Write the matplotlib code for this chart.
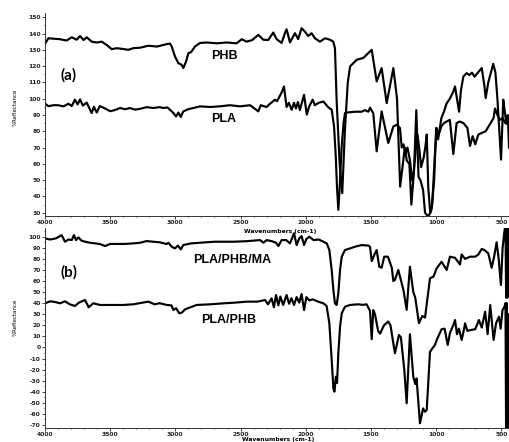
import matplotlib
matplotlib.use("Agg")
import matplotlib.pyplot as plt
from matplotlib.ticker import MultipleLocator

plt.rcParams["axes.unicode_minus"] = False

# ---------------- data ----------------
phb_wn = [4000, 3974, 3930, 3885, 3834, 3795, 3757, 3731, 3705, 3680,
          3642, 3603, 3565, 3527, 3488, 3450, 3400, 3362, 3323, 3270,
          3208, 3140, 3067, 3041, 3028, 3003, 2977, 2952, 2939, 2918,
          2900, 2880, 2850, 2811, 2760, 2683, 2606, 2530, 2491, 2453,
          2410, 2364, 2326, 2288, 2249, 2224, 2185, 2160, 2147, 2121,
          2083, 2058, 2032, 2007, 1981, 1955, 1930, 1891, 1852, 1814,
          1789, 1776, 1763, 1740, 1720, 1700, 1678, 1660, 1609, 1559,
          1520, 1494, 1456, 1418, 1379, 1328, 1300, 1276, 1255, 1240,
          1225, 1205, 1190, 1170, 1152, 1135, 1120, 1100, 1085, 1065,
          1050, 1035, 1015, 1000, 985, 960, 940, 920, 895, 870,
          855, 840, 824, 810, 791, 766, 745, 725, 705, 680,
          650, 630, 620, 600, 580, 562, 545, 530, 515, 502,
          485, 475, 462, 450, 441]
phb_val = [133.7, 137.1, 136.8, 136.5, 135.7, 137.7, 136.2, 138.5, 136.0, 137.7,
           135.0, 134.5, 135.0, 133.0, 130.4, 131.0, 130.5, 130.0, 131.0, 131.3,
           132.5, 132.0, 133.5, 133.8, 132.0, 125.9, 121.8, 120.8, 118.8, 122.8,
           128.0, 128.5, 132.0, 134.2, 134.5, 134.0, 134.5, 134.0, 136.5, 135.0,
           136.0, 139.2, 136.2, 136.0, 140.6, 136.6, 134.2, 140.2, 142.6, 134.5,
           140.2, 136.6, 143.3, 141.2, 138.5, 140.2, 137.1, 135.0, 137.1, 136.2,
           135.0, 131.0, 99.0, 60.0, 42.0, 80.0, 109.6, 119.8, 123.9, 125.0,
           128.0, 130.0, 110.6, 118.8, 97.3, 118.8, 100.0, 46.0, 60.0, 70.0,
           62.0, 60.0, 35.0, 55.0, 93.0, 52.0, 50.0, 44.0, 30.0, 28.0,
           29.0, 32.0, 50.0, 82.0, 75.0, 88.0, 92.0, 97.0, 100.0, 104.0,
           107.5, 100.0, 92.0, 105.0, 113.6, 115.7, 114.5, 116.0, 113.5, 116.0,
           118.8, 108.0, 100.4, 110.0, 116.0, 121.4, 116.0, 100.0, 80.0, 62.6,
           99.4, 93.0, 85.0, 90.0, 70.0]

pla_wn = [4000, 3974, 3935, 3900, 3858, 3820, 3795, 3770, 3750, 3731,
          3710, 3680, 3660, 3642, 3625, 3603, 3580, 3540, 3500, 3465,
          3424, 3385, 3350, 3310, 3270, 3220, 3170, 3120, 3093, 3060,
          3015, 2995, 2977, 2959, 2939, 2900, 2860, 2811, 2734, 2660,
          2581, 2504, 2427, 2364, 2345, 2300, 2280, 2236, 2220, 2185,
          2167, 2147, 2130, 2108, 2090, 2075, 2060, 2045, 2013, 1992,
          1975, 1947, 1930, 1900, 1865, 1827, 1801, 1783, 1770, 1760,
          1750, 1740, 1725, 1710, 1699, 1674, 1620, 1571, 1546, 1520,
          1507, 1482, 1456, 1418, 1367, 1328, 1300, 1277, 1264, 1250,
          1235, 1220, 1200, 1185, 1172, 1155, 1143, 1130, 1115, 1095,
          1080, 1072, 1060, 1045, 1030, 1010, 996, 980, 960, 940,
          919, 895, 868, 843, 820, 790, 760, 740, 720, 700,
          676, 650, 620, 590, 560, 548, 530, 510, 490, 470,
          441]
pla_val = [97.0, 95.4, 96.0, 96.0, 95.3, 96.9, 95.5, 99.4, 96.5, 99.6,
           95.8, 97.6, 94.3, 91.2, 95.0, 91.5, 95.5, 94.0, 92.3, 93.0,
           94.3, 93.5, 94.3, 93.3, 93.8, 94.8, 94.3, 94.8, 94.3, 94.6,
           91.2, 89.1, 91.5, 88.8, 92.2, 93.6, 94.3, 95.3, 94.9, 95.3,
           96.0, 95.3, 96.0, 92.2, 96.0, 94.9, 96.5, 99.4, 98.5, 103.8,
           107.5, 94.9, 97.5, 93.2, 97.5, 94.0, 98.0, 93.0, 102.4, 90.2,
           95.0, 99.4, 96.0, 97.5, 98.3, 94.7, 93.2, 83.0, 65.0, 45.0,
           31.8, 45.0, 70.0, 85.0, 91.2, 91.6, 92.0, 92.0, 93.0, 92.0,
           94.5, 91.0, 67.7, 92.2, 72.8, 83.0, 84.0, 82.0, 70.0, 72.0,
           66.0, 70.0, 62.0, 50.0, 55.0, 70.0, 78.0, 70.0, 58.0, 64.0,
           72.0, 78.0, 45.0, 30.0, 35.0, 65.0, 82.0, 78.0, 83.0, 85.0,
           86.0, 87.0, 66.0, 85.0, 86.0, 85.0, 82.0, 71.0, 77.0, 72.0,
           78.0, 79.0, 80.0, 84.0, 88.0, 94.0, 90.0, 87.0, 88.0, 85.0,
           84.0]

ma_wn = [4000, 3960, 3917, 3885, 3872, 3847, 3820, 3795, 3778, 3762,
         3744, 3720, 3693, 3655, 3615, 3578, 3540, 3500, 3450, 3390,
         3323, 3270, 3220, 3170, 3120, 3067, 3054, 3028, 3003, 2980,
         2959, 2939, 2880, 2811, 2700, 2555, 2450, 2350, 2325, 2300,
         2260, 2228, 2210, 2185, 2150, 2121, 2090, 2070, 2050, 2032,
         2013, 1995, 1972, 1940, 1900, 1865, 1839, 1819, 1801, 1788,
         1776, 1763, 1750, 1737, 1724, 1699, 1660, 1622, 1571, 1520,
         1507, 1494, 1469, 1456, 1436, 1418, 1398, 1370, 1340, 1328,
         1316, 1290, 1251, 1226, 1201, 1175, 1160, 1132, 1106, 1085,
         1047, 1020, 996, 958, 919, 894, 855, 817, 804, 778,
         740, 700, 676, 650, 630, 600, 574, 555, 536, 520,
         503, 490, 478, 468, 463, 458, 453, 448, 444, 441]
ma_val = [98.5, 97.5, 98.5, 100.6, 101.5, 95.5, 97.5, 97.0, 101.5, 97.0,
          99.4, 96.5, 95.5, 94.6, 94.0, 93.4, 91.6, 93.5, 93.5, 93.5,
          94.0, 94.6, 96.1, 95.5, 95.0, 93.4, 94.6, 91.0, 89.5, 92.0,
          88.6, 92.5, 94.0, 94.6, 95.5, 95.5, 96.0, 97.0, 94.6, 97.0,
          96.0, 94.6, 91.6, 97.0, 97.0, 94.0, 103.1, 92.5, 98.5, 100.6,
          92.5, 98.0, 100.0, 97.0, 97.5, 95.5, 94.0, 88.0, 70.0, 51.9,
          39.9, 38.4, 48.9, 70.0, 82.0, 88.0, 89.5, 91.0, 92.5, 92.0,
          91.0, 78.0, 85.0, 88.0, 73.0, 72.0, 82.0, 82.0, 72.0, 60.0,
          61.0, 70.0, 52.0, 34.0, 73.0, 50.0, 45.0, 22.0, 28.5, 27.0,
          62.5, 64.0, 71.5, 77.4, 70.0, 82.0, 81.0, 75.0, 84.0, 80.0,
          82.0, 82.0, 84.0, 89.0, 88.0, 85.0, 72.0, 82.0, 95.0, 80.0,
          56.4, 90.0, 103.0, 112.0, 45.0, 112.0, 45.0, 112.0, 50.0, 112.0]

blend_wn = [4000, 3960, 3920, 3885, 3847, 3810, 3770, 3740, 3693, 3665,
            3630, 3578, 3500, 3400, 3323, 3207, 3160, 3120, 3067, 3030,
            3015, 2995, 2970, 2950, 2925, 2880, 2837, 2730, 2630, 2555,
            2450, 2370, 2312, 2290, 2262, 2244, 2228, 2210, 2195, 2173,
            2147, 2128, 2110, 2090, 2070, 2050, 2032, 2013, 1995, 1972,
            1947, 1905, 1865, 1840, 1819, 1801, 1788, 1780, 1769, 1760,
            1750, 1737, 1724, 1699, 1660, 1600, 1560, 1533, 1507, 1494,
            1482, 1469, 1445, 1430, 1400, 1367, 1350, 1316, 1285, 1270,
            1244, 1226, 1201, 1175, 1160, 1150, 1124, 1100, 1085, 1072,
            1047, 1030, 1009, 991, 958, 935, 911, 894, 868, 855,
            840, 825, 804, 785, 778, 760, 734, 700, 672, 650,
            624, 605, 585, 559, 540, 518, 505, 491, 476, 468,
            463, 458, 453, 448, 444, 441]
blend_val = [39.9, 41.7, 41.0, 39.9, 41.7, 39.0, 37.5, 40.5, 42.9, 36.3,
             39.9, 38.4, 38.4, 38.4, 39.0, 41.4, 39.0, 40.0, 38.4, 38.0,
             33.8, 35.5, 30.9, 31.5, 34.5, 36.5, 38.4, 39.0, 39.9, 40.4,
             41.4, 41.4, 42.9, 39.0, 44.4, 36.3, 47.4, 38.0, 46.0, 38.4,
             47.4, 39.5, 44.5, 38.4, 45.5, 40.5, 48.3, 33.8, 45.5, 42.5,
             43.5, 41.4, 39.9, 37.5, 21.8, -11.3, -37.0, -39.9, -26.4, -32.0,
             -5.2, 18.8, 30.9, 36.8, 38.4, 39.0, 38.5, 39.0, 33.0, 7.5,
             33.8, 30.0, 15.0, 12.5, 20.0, 23.5, 20.0, -5.2, 11.3, 9.0,
             -20.3, -50.4, 12.0, -26.4, -33.0, -28.0, -68.4, -55.0, -58.0, -56.4,
             -4.0, -1.0, 2.3, 8.0, 16.5, 17.0, 2.3, 13.0, 20.3, 24.8,
             12.0, 17.0, 6.8, 17.0, 21.8, 15.0, 15.8, 16.5, 24.8, 18.0,
             32.3, 12.0, 38.4, 6.8, 22.0, 27.8, 17.0, 33.8, 36.8, 40.0,
             -80.0, 40.0, -80.0, 30.0, -80.0, 30.0]

x_ticks = [4000, 3500, 3000, 2500, 2000, 1500, 1000, 500]
top_yticks = list(range(30, 151, 10))
bot_yticks = list(range(-70, 101, 10))

x_label = "Wavenumbers (cm-1)"
y_label = "%Reflectance"

# ---------------- figure ----------------
W, H = 509, 442
fig = plt.figure(figsize=(W / 100, H / 100), dpi=100)

def frac_box(left, top, right, bottom):
    return [left / W, 1 - bottom / H, (right - left) / W, (bottom - top) / H]

ax1 = fig.add_axes(frac_box(45, 13, 509, 216))
ax2 = fig.add_axes(frac_box(45, 228, 509, 428))

lw = 1.55
ax1.plot(phb_wn, phb_val, color="black", lw=lw, solid_joinstyle="round")
ax1.plot(pla_wn, pla_val, color="black", lw=lw, solid_joinstyle="round")
ax2.plot(ma_wn, ma_val, color="black", lw=lw, solid_joinstyle="round")
ax2.plot(blend_wn, blend_val, color="black", lw=lw, solid_joinstyle="round")

ax1.set_ylim(28, 152.6)
ax2.set_ylim(-72.7, 107.9)
ax1.set_yticks(top_yticks)
ax2.set_yticks(bot_yticks)

for ax in (ax1, ax2):
    ax.set_xlim(4000, 441)
    ax.set_xticks(x_ticks)
    ax.xaxis.set_minor_locator(MultipleLocator(100))
    ax.yaxis.set_minor_locator(MultipleLocator(5))
    for s in ("top", "right"):
        ax.spines[s].set_visible(False)
    for s in ("left", "bottom"):
        ax.spines[s].set_linewidth(0.7)
        ax.spines[s].set_color("#333333")
    ax.tick_params(which="major", length=2, width=0.6, direction="out",
                   labelsize=4.3, pad=1, colors="#222222")
    ax.tick_params(which="minor", length=1, width=0.8, direction="out",
                   colors="#555555")
    for lab in ax.get_xticklabels() + ax.get_yticklabels():
        lab.set_fontweight("bold")
    ax.patch.set_alpha(0)

# axis titles
fig.text(280 / W, 1 - 231 / H, x_label, fontsize=4.3, fontweight="bold",
         ha="center", va="center")
fig.text(278 / W, 1 - 440 / H, x_label, fontsize=4.3, fontweight="bold",
         ha="center", va="center")
fig.text(15 / W, 1 - 107 / H, y_label, fontsize=4.0, rotation=90,
         ha="center", va="center")
fig.text(15 / W, 1 - 317 / H, y_label, fontsize=4.0, rotation=90,
         ha="center", va="center")

# panel annotations
def fig_txt(x, y, s, size, family):
    fig.text(x / W, 1 - y / H, s, fontsize=size, fontweight="bold",
             ha="center", va="center", family=family)

fig_txt(69, 75, "(a)", 11, "Lato")
fig_txt(69, 272, "(b)", 11, "Lato")
fig_txt(224, 56, "PHB", 9, "Liberation Sans")
fig_txt(224, 119, "PLA", 9, "Liberation Sans")
fig_txt(232, 260, "PLA/PHB/MA", 9, "Liberation Sans")
fig_txt(229, 320, "PLA/PHB", 9, "Liberation Sans")

fig.savefig("out.png", dpi=100)
